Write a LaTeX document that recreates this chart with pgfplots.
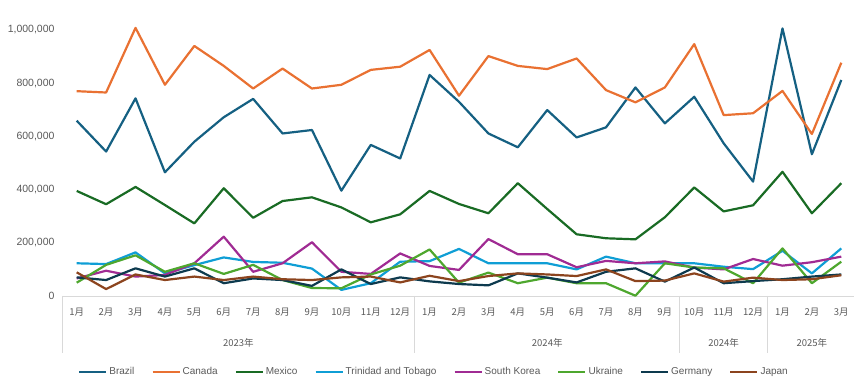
\documentclass[border=0pt]{standalone}
\usepackage{fontspec}
\setmainfont{Liberation Sans}
\newfontfamily\cjk{Noto Sans CJK JP}
\usepackage{pgfplots}
\pgfplotsset{compat=1.18}
\definecolor{cBrazil}{HTML}{156082}
\definecolor{cCanada}{HTML}{E97132}
\definecolor{cMexico}{HTML}{196B24}
\definecolor{cTT}{HTML}{0F9ED5}
\definecolor{cKorea}{HTML}{A02B93}
\definecolor{cUkraine}{HTML}{4EA72E}
\definecolor{cGermany}{HTML}{0D3A4E}
\definecolor{cJapan}{HTML}{8C441E}
\definecolor{txt}{HTML}{595959}
\definecolor{axl}{HTML}{D9D9D9}
\begin{document}
\begin{tikzpicture}
\begin{axis}[
  at={(62pt,83pt)}, anchor=south west,
  scale only axis, width=794pt, height=266pt,
  xmin=-0.5, xmax=26.5, ymin=0, ymax=1000000,
  clip=false,
  axis lines*=left,
  x axis line style={draw=axl, line width=0.8pt},
  y axis line style={draw=none},
  major tick length=0pt,
  xtick={0,...,26},
  xticklabels={1月,2月,3月,4月,5月,6月,7月,8月,9月,10月,11月,12月,1月,2月,3月,4月,5月,6月,7月,8月,9月,10月,11月,12月,1月,2月,3月},
  xticklabel style={font=\cjk\fontsize{9.5}{11}\selectfont, text=txt, yshift=-8pt},
  ytick={0,200000,400000,600000,800000,1000000},
  scaled y ticks=false,
  yticklabel style={font=\fontsize{10.5}{12}\selectfont, text=txt, xshift=-4pt},
  /pgf/number format/.cd, fixed, 1000 sep={,}, assume math mode=true,
  /pgfplots/.cd,
  every axis plot/.append style={line width=2.2pt, no markers, line join=round},
  legend columns=8,
  legend style={draw=none, fill=none, font=\fontsize{10}{12}\selectfont, text=txt,
    at={(0.4685,-0.286)}, anchor=center,
    /tikz/every even column/.append style={column sep=15pt}},
  legend image code/.code={\draw[#1, line width=2.2pt] (0pt,0pt) -- (27pt,0pt);},
]
\addplot[cBrazil] coordinates {(0,659000)(1,543000)(2,743000)(3,465000)(4,580000)(5,672000)(6,741000)(7,611000)(8,624000)(9,396000)(10,568000)(11,517000)(12,831000)(13,730000)(14,611000)(15,559000)(16,699000)(17,596000)(18,634000)(19,784000)(20,649000)(21,749000)(22,574000)(23,430000)(24,1006000)(25,533000)(26,812000)};
\addlegendentry{Brazil}
\addplot[cCanada] coordinates {(0,770000)(1,765000)(2,1008000)(3,794000)(4,940000)(5,865000)(6,780000)(7,855000)(8,780000)(9,794000)(10,850000)(11,862000)(12,925000)(13,753000)(14,902000)(15,865000)(16,853000)(17,893000)(18,774000)(19,728000)(20,784000)(21,947000)(22,680000)(23,687000)(24,771000)(25,609000)(26,877000)};
\addlegendentry{Canada}
\addplot[cMexico] coordinates {(0,395000)(1,345000)(2,410000)(3,342000)(4,273000)(5,405000)(6,294000)(7,357000)(8,371000)(9,333000)(10,277000)(11,307000)(12,395000)(13,346000)(14,311000)(15,424000)(16,327000)(17,232000)(18,217000)(19,213000)(20,296000)(21,408000)(22,318000)(23,341000)(24,467000)(25,311000)(26,424000)};
\addlegendentry{Mexico}
\addplot[cTT] coordinates {(0,123000)(1,120000)(2,164000)(3,85000)(4,116000)(5,145000)(6,128000)(7,125000)(8,103000)(9,23000)(10,48000)(11,129000)(12,131000)(13,177000)(14,123000)(15,123000)(16,123000)(17,100000)(18,148000)(19,123000)(20,123000)(21,123000)(22,110000)(23,101000)(24,170000)(25,85000)(26,179000)};
\addlegendentry{Trinidad and Tobago}
\addplot[cKorea] coordinates {(0,66000)(1,95000)(2,73000)(3,79000)(4,123000)(5,223000)(6,91000)(7,123000)(8,202000)(9,91000)(10,83000)(11,160000)(12,113000)(13,98000)(14,214000)(15,157000)(16,157000)(17,108000)(18,132000)(19,123000)(20,130000)(21,107000)(22,100000)(23,139000)(24,114000)(25,127000)(26,148000)};
\addlegendentry{South Korea}
\addplot[cUkraine] coordinates {(0,50000)(1,117000)(2,153000)(3,91000)(4,123000)(5,83000)(6,117000)(7,60000)(8,30000)(9,29000)(10,81000)(11,114000)(12,175000)(13,50000)(14,88000)(15,48000)(16,69000)(17,48000)(18,48000)(19,1000)(20,123000)(21,107000)(22,104000)(23,48000)(24,179000)(25,48000)(26,129000)};
\addlegendentry{Ukraine}
\addplot[cGermany] coordinates {(0,70000)(1,60000)(2,104000)(3,73000)(4,104000)(5,48000)(6,66000)(7,60000)(8,38000)(9,100000)(10,45000)(11,70000)(12,55000)(13,45000)(14,40000)(15,85000)(16,69000)(17,51000)(18,91000)(19,104000)(20,54000)(21,107000)(22,48000)(23,56000)(24,63000)(25,73000)(26,81000)};
\addlegendentry{Germany}
\addplot[cJapan] coordinates {(0,89000)(1,26000)(2,81000)(3,60000)(4,73000)(5,60000)(6,73000)(7,63000)(8,60000)(9,70000)(10,73000)(11,51000)(12,76000)(13,56000)(14,75000)(15,85000)(16,81000)(17,75000)(18,100000)(19,56000)(20,58000)(21,85000)(22,54000)(23,69000)(24,60000)(25,63000)(26,78000)};
\addlegendentry{Japan}
\foreach \s in {-0.5,11.5,20.5,23.5,26.5}{
  \edef\tmp{\noexpand\draw[axl, line width=0.8pt] (axis cs:\s,0) -- ++(0pt,-57pt);}\tmp
}
\node[font=\cjk\fontsize{9.5}{11}\selectfont, text=txt] at ([yshift=-47pt]axis cs:5.5,0) {2023年};
\node[font=\cjk\fontsize{9.5}{11}\selectfont, text=txt] at ([yshift=-47pt]axis cs:16,0) {2024年};
\node[font=\cjk\fontsize{9.5}{11}\selectfont, text=txt] at ([yshift=-47pt]axis cs:22,0) {2024年};
\node[font=\cjk\fontsize{9.5}{11}\selectfont, text=txt] at ([yshift=-47pt]axis cs:25,0) {2025年};
\end{axis}
\pgfresetboundingbox
\path (0pt,0pt) rectangle (854pt,379pt);
\end{tikzpicture}
\end{document}
